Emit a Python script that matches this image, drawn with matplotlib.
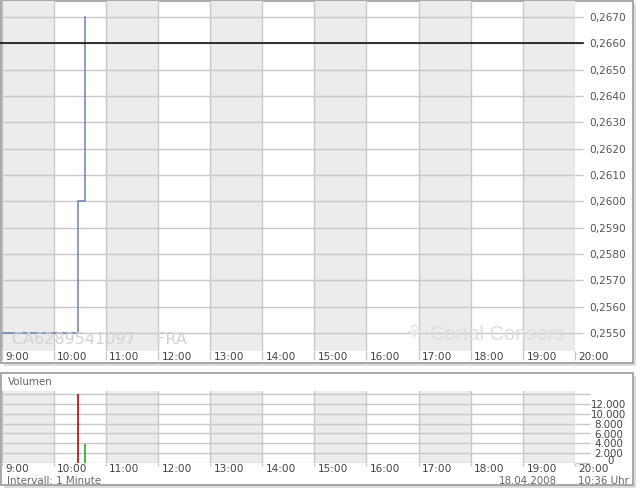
import matplotlib
matplotlib.use("Agg")
import matplotlib.pyplot as plt
import matplotlib.patches as mpatches
import matplotlib.transforms as mtransforms

W, H = 640, 492

# ---- data ----
hours = list(range(9, 21))
hour_labels = ["9:00", "10:00", "11:00", "12:00", "13:00", "14:00", "15:00",
               "16:00", "17:00", "18:00", "19:00", "20:00"]
price_times = [9.0, 10 + 28 / 60, 10 + 36 / 60]
price_values = [0.2550, 0.2600, 0.2670]
prev_close = 0.2660
price_ticks = [0.2550, 0.2560, 0.2570, 0.2580, 0.2590, 0.2600, 0.2610,
               0.2620, 0.2630, 0.2640, 0.2650, 0.2660, 0.2670]
vol_times = [10 + 28 / 60, 10 + 36 / 60]
vol_values = [14000, 3800]
vol_colors = ["#cc0000", "#22aa22"]
vol_ticks = [0, 2000, 4000, 6000, 8000, 10000, 12000]
vol_tick_labels = ["0", "2.000", "4.000", "6.000", "8.000", "10.000", "12.000"]

GRID = "#c8c8c8"
SHADE = "#ececec"
TXT = "#444444"

fig = plt.figure(figsize=(W / 100, H / 100), dpi=100)
fig.patch.set_facecolor("white")


def box(x0, y0, x1, y1):
    return [x0 / W, 1 - y1 / H, (x1 - x0) / W, (y1 - y0) / H]


# ---- panel frames ----
for (x0, y0, x1, y1) in [(0.5, 0.5, 633, 363), (0.5, 372.5, 633, 485)]:
    fig.patches.append(mpatches.Rectangle((x0 / W + 3 / W, 1 - (y1 + 3) / H),
                                          (x1 - x0) / W, (y1 - y0) / H,
                                          transform=fig.transFigure,
                                          facecolor="#dddddd", edgecolor="none", zorder=-3))
    fig.patches.append(mpatches.Rectangle((x0 / W, 1 - y1 / H),
                                          (x1 - x0) / W, (y1 - y0) / H,
                                          transform=fig.transFigure,
                                          facecolor="white", edgecolor="#9a9a9a",
                                          linewidth=1.2, zorder=-2))


def style_axes(ax, xtick_len):
    ax.set_xlim(9, 20)
    for s in ax.spines.values():
        s.set_visible(False)
    ax.patch.set_alpha(0)
    for h in range(9, 20, 2):
        ax.axvspan(h, h + 1, color=SHADE, zorder=0, linewidth=0)
    ax.set_xticks(hours)
    ax.tick_params(axis="x", direction="out", length=xtick_len, width=1, colors=GRID,
                   labelbottom=False)
    ax.grid(True, axis="both", color=GRID, linewidth=1, zorder=1)
    ax.set_axisbelow(True)
    ax.set_zorder(1)


# ---- main price axes ----
ax = fig.add_axes(box(1.5, 1, 575, 351))
style_axes(ax, 6.5)
ax.set_ylim(0.254316, 0.267608)
ax.yaxis.tick_right()
ax.set_yticks(price_ticks)
ax.set_yticklabels([f"{v:.4f}".replace(".", ",") for v in price_ticks])
ax.tick_params(axis="y", direction="out", length=5.5, width=1, colors=GRID,
               labelcolor="#555555", labelsize=7.6, pad=5)
ax.plot(price_times, price_values, drawstyle="steps-post", color="#6b83b3",
        linewidth=1.1, zorder=3)
ax.axhline(prev_close, xmin=-0.002, xmax=1 + 8 / 574, color="black",
           linewidth=1.1, zorder=4, clip_on=False)

trans = mtransforms.blended_transform_factory(ax.transData, fig.transFigure)
for h, lab in zip(hours, hour_labels):
    ax.text(h + 3.5 / 52.14, 1 - 357.5 / H, lab, transform=trans, ha="left",
            va="center", fontsize=7.6, color=TXT)

ax.text(12 / W, 1 - 340 / H, "CA6289541097    FRA", fontsize=11.5,
        color="#d2d2d2", ha="left", va="center", zorder=5, transform=fig.transFigure)
ax.text(430 / W, 1 - 334 / H, "Cortal Consors", fontsize=14.5,
        family="Liberation Sans", color="#dedede", ha="left", va="center",
        zorder=5, transform=fig.transFigure)
ax.text(414 / W, 1 - 334 / H, "\u2698", fontsize=15, color="#e2e2e2",
        ha="center", va="center", zorder=5, transform=fig.transFigure)

# ---- volume axes ----
vx = fig.add_axes(box(1.5, 391, 575, 462.5))
style_axes(vx, 2.5)
vx.set_ylim(0, 14700)
vx.set_yticks(vol_ticks + [14000])
vx.yaxis.tick_right()
vx.tick_params(axis="y", direction="out", length=11, width=1, colors=GRID,
               labelright=False)
vx.vlines(vol_times, 0, vol_values, colors=vol_colors, linewidth=1.2, zorder=3)

vtrans = mtransforms.blended_transform_factory(vx.transAxes, vx.transData)
for v, lab in zip(vol_ticks, vol_tick_labels):
    dy = 350 if v == 0 else -250
    dx = 36 / 574 if v == 0 else 34 / 574
    vx.text(1 + dx, v + dy, lab, transform=vtrans, ha="center", va="center",
            fontsize=7.4, color=TXT, clip_on=False)

vtrans2 = mtransforms.blended_transform_factory(vx.transData, fig.transFigure)
for h, lab in zip(hours, hour_labels):
    vx.text(h + 3.5 / 52.14, 1 - 469.5 / H, lab, transform=vtrans2, ha="left",
            va="center", fontsize=7.6, color=TXT)

fig.text(8 / W, 1 - 382 / H, "Volumen", fontsize=7.4, color="#666666",
         ha="left", va="center")
fig.text(7 / W, 1 - 480.5 / H, "Intervall: 1 Minute", fontsize=7.4, color="#666666",
         ha="left", va="center")
fig.text(557 / W, 1 - 480.5 / H, "18.04.2008", fontsize=7.4, color="#666666",
         ha="right", va="center")
fig.text(629 / W, 1 - 480.5 / H, "10:36 Uhr", fontsize=7.4, color="#666666",
         ha="right", va="center")

fig.savefig("out.png", dpi=100, facecolor="white")
